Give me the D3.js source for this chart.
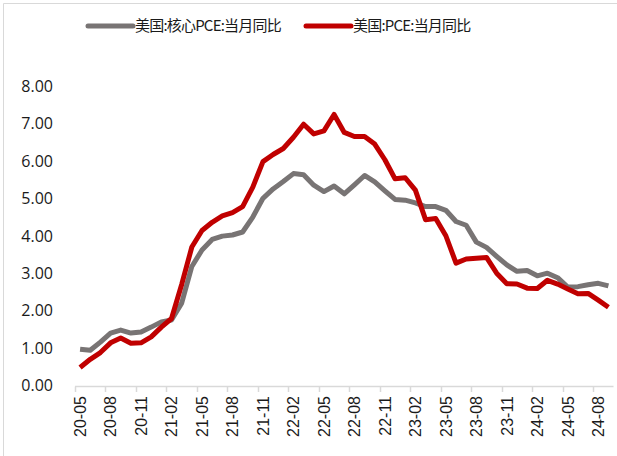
<!DOCTYPE html>
<html>
<head>
<meta charset="utf-8">
<script src="https://cdn.jsdelivr.net/npm/d3@7"></script>
<style>
  body { margin: 0; background: #fff; }
  svg { display: block; }
</style>
</head>
<body>
<div id="chart"></div>
<script>
// months 2020-05 .. 2024-09
const months = [
  '20-05','20-06','20-07','20-08','20-09','20-10','20-11','20-12',
  '21-01','21-02','21-03','21-04','21-05','21-06','21-07','21-08','21-09','21-10','21-11','21-12',
  '22-01','22-02','22-03','22-04','22-05','22-06','22-07','22-08','22-09','22-10','22-11','22-12',
  '23-01','23-02','23-03','23-04','23-05','23-06','23-07','23-08','23-09','23-10','23-11','23-12',
  '24-01','24-02','24-03','24-04','24-05','24-06','24-07','24-08','24-09'
];
const corePce = [
  0.97, 0.94, 1.16, 1.40, 1.48, 1.40, 1.43, 1.56,
  1.70, 1.75, 2.20, 3.18, 3.62, 3.90, 3.99, 4.02, 4.10, 4.50, 5.00, 5.25,
  5.45, 5.66, 5.63, 5.35, 5.18, 5.33, 5.12, 5.36, 5.61, 5.44, 5.20, 4.97,
  4.95, 4.88, 4.78, 4.78, 4.68, 4.38, 4.28, 3.83, 3.69, 3.45, 3.22, 3.05,
  3.07, 2.93, 3.00, 2.88, 2.63, 2.64, 2.69, 2.73, 2.66
];
const pce = [
  0.48, 0.70, 0.88, 1.14, 1.27, 1.13, 1.14, 1.30,
  1.56, 1.79, 2.70, 3.70, 4.14, 4.36, 4.53, 4.62, 4.78, 5.30, 5.98, 6.17,
  6.33, 6.63, 6.98, 6.72, 6.80, 7.24, 6.76, 6.65, 6.65, 6.45, 6.03, 5.52,
  5.55, 5.22, 4.43, 4.46, 4.00, 3.27, 3.38, 3.40, 3.42, 3.00, 2.72, 2.71,
  2.60, 2.59, 2.81, 2.71, 2.58, 2.45, 2.46, 2.28, 2.09
];
const yTicks = [0, 1, 2, 3, 4, 5, 6, 7, 8];
const seriesNames = ['美国:核心PCE:当月同比', '美国:PCE:当月同比'];

const width = 617, height = 456;
const colors = ['#787474', '#c00000'];

const svg = d3.select('#chart').append('svg')
  .attr('width', width)
  .attr('height', height);

// faint frame (top & left visible)
svg.append('line').attr('x1', 3.5).attr('x2', width).attr('y1', 3.5).attr('y2', 3.5)
  .attr('stroke', '#d9d9d9');
svg.append('line').attr('x1', 3.5).attr('x2', 3.5).attr('y1', 3.5).attr('y2', height)
  .attr('stroke', '#d9d9d9');

const x = d3.scaleBand()
  .domain(months)
  .range([75, 613.5])
  .padding(0);

const y = d3.scaleLinear()
  .domain([0, 8])
  .range([385.5, 86]);

// y labels
svg.append('g')
  .selectAll('text')
  .data(yTicks)
  .enter().append('text')
  .attr('x', 53)
  .attr('y', d => y(d))
  .attr('dy', '0.36em')
  .attr('text-anchor', 'end')
  .style('font-family', '"Open Sans", "Noto Sans", sans-serif')
  .style('font-size', '16px')
  .style('fill', '#1a1a1a')
  .text(d => d.toFixed(2));

// x axis
const xAxis = svg.append('g').attr('class', 'x axis');
xAxis.append('line')
  .attr('x1', x.range()[0]).attr('x2', x.range()[1])
  .attr('y1', 386.5).attr('y2', 386.5)
  .attr('stroke', '#d9d9d9').attr('stroke-width', 1.5);

const labelMonths = months.filter((d, i) => i % 3 === 0);

xAxis.selectAll('.tick')
  .data(labelMonths)
  .enter().append('line')
  .attr('x1', d => Math.round(x(d)) + 0.5)
  .attr('x2', d => Math.round(x(d)) + 0.5)
  .attr('y1', 386.5).attr('y2', 392)
  .attr('stroke', '#d9d9d9').attr('stroke-width', 1.5);

xAxis.selectAll('.lbl')
  .data(labelMonths)
  .enter().append('text')
  .attr('transform', d => 'translate(' + (x(d) + x.bandwidth() / 2) + ',396) rotate(-90)')
  .attr('text-anchor', 'end')
  .attr('dy', '0.36em')
  .style('font-family', '"Liberation Sans", Arial, sans-serif')
  .style('font-size', '16px')
  .style('fill', '#1a1a1a')
  .text(d => d);

// lines
const line = d3.line()
  .x((d, i) => x(months[i]) + x.bandwidth() / 2)
  .y(d => y(d));

[corePce, pce].forEach((s, k) => {
  svg.append('path')
    .datum(s)
    .attr('fill', 'none')
    .attr('stroke', colors[k])
    .attr('stroke-width', 5)
    .attr('stroke-linejoin', 'round')
    .attr('d', line);
});

// legend
const legendX = [88, 306];
const legend = svg.append('g')
  .selectAll('g')
  .data(seriesNames)
  .enter().append('g')
  .attr('transform', (d, i) => 'translate(' + legendX[i] + ',26)');

legend.append('line')
  .attr('x1', 0).attr('x2', 45)
  .attr('stroke', (d, i) => colors[i])
  .attr('stroke-width', 5)
  .attr('stroke-linecap', 'round');

legend.append('text')
  .attr('x', 47)
  .attr('dy', '0.36em')
  .style('font-family', '"Noto Sans CJK SC", sans-serif')
  .style('font-size', '15px')
  .style('letter-spacing', '-0.8px')
  .style('fill', '#1a1a1a')
  .text(d => d);
</script>
</body>
</html>
